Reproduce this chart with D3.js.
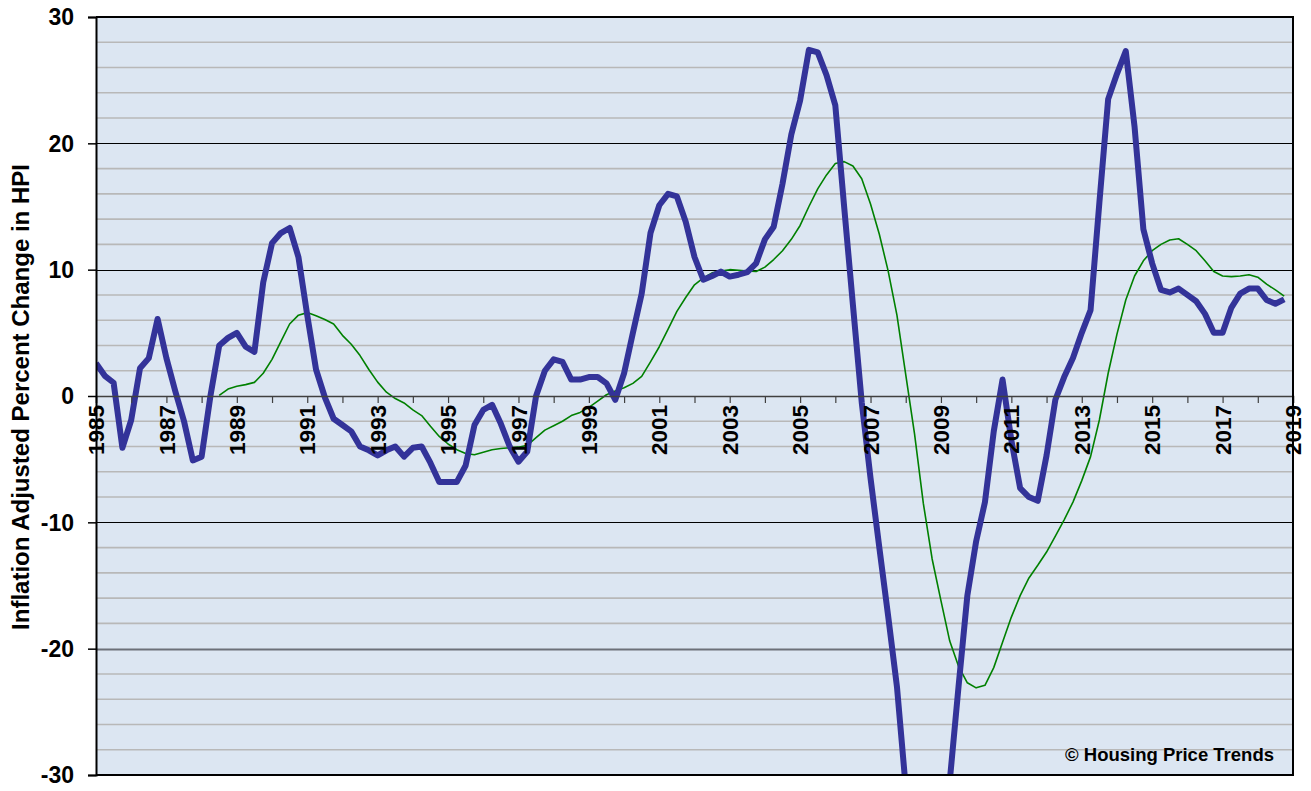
<!DOCTYPE html>
<html>
<head>
<meta charset="utf-8">
<script src="https://cdn.jsdelivr.net/npm/d3@7"></script>
<style>
  html, body { margin: 0; padding: 0; background: #ffffff; }
  svg { display: block; }
  text { font-family: "Liberation Sans", Arial, sans-serif; font-weight: bold; fill: #000; }
</style>
</head>
<body>
<svg id="chart" width="1311" height="791"></svg>
<script>
// ---- DATA ----
const startYear = 1985;           // first quarter of blue series (Q1 1985)
const greenStartYear = 1988.5;    // first quarter of green series
const yTicks = [-30, -20, -10, 0, 10, 20, 30];
const yearTicks = [1985,1986,1987,1988,1989,1990,1991,1992,1993,1994,1995,1996,1997,1998,1999,2000,2001,2002,2003,2004,2005,2006,2007,2008,2009,2010,2011,2012,2013,2014,2015,2016,2017,2018,2019];
const yearLabels = [1985,1987,1989,1991,1993,1995,1997,1999,2001,2003,2005,2007,2009,2011,2013,2015,2017,2019];
const yAxisTitle = "Inflation Adjusted Percent Change in HPI";
const credit = "\u00A9 Housing Price Trends";

// quarterly inflation-adjusted % change (thick blue line), 1985 Q1 .. 2018 Q4
const blueValues = [
  2.6, 1.6, 1.05, -4.1,
  -1.9, 2.2, 3.0, 6.1,
  3.0, 0.4, -2.0, -5.1,
  -4.8, 0.0, 4.0, 4.6,
  5.0, 3.9, 3.5, 9.0,
  12.1, 12.9, 13.3, 11.0,
  6.4, 2.1, -0.1, -1.8,
  -2.3, -2.8, -4.0, -4.3,
  -4.7, -4.3, -4.0, -4.8,
  -4.1, -4.0, -5.3, -6.8,
  -6.8, -6.8, -5.5, -2.3,
  -1.1, -0.7, -2.2, -4.0,
  -5.2, -4.4, 0.0, 2.0,
  2.9, 2.7, 1.3, 1.3,
  1.5, 1.5, 1.0, -0.3,
  1.8, 5.0, 8.1, 12.9,
  15.1, 16.0, 15.8, 13.8,
  11.0, 9.2, 9.5, 9.85,
  9.45, 9.6, 9.8, 10.5,
  12.4, 13.4, 16.8, 20.7,
  23.4, 27.4, 27.2, 25.4,
  23.0, 15.0, 7.2, -0.5,
  -6.5, -12.0, -17.4, -23.0,
  -31.0, -36.0, -39.0, -38.0,
  -35.0, -30.5, -23.0, -15.8,
  -11.5, -8.4, -2.8, 1.3,
  -3.5, -7.3, -8.0, -8.3,
  -4.7, -0.3, 1.5, 3.0,
  5.0, 6.8, 15.3, 23.5,
  25.5, 27.3, 21.3, 13.2,
  10.5, 8.4, 8.2, 8.5,
  8.0, 7.5, 6.5, 5.0,
  5.0, 7.0, 8.1, 8.5,
  8.5, 7.6, 7.3, 7.65
];

// smoothed trend (thin green line), 1988 Q3 .. 2018 Q4
const greenValues = [
  0.05, 0.55,
  0.77, 0.9, 1.08, 1.8,
  2.9, 4.3, 5.7, 6.4,
  6.6, 6.35, 6.05, 5.7,
  4.8, 4.1, 3.2, 2.1,
  1.1, 0.3, -0.2, -0.55,
  -1.1, -1.55, -2.4, -3.2,
  -3.8, -4.25, -4.55, -4.65,
  -4.45, -4.25, -4.15, -4.1,
  -4.05, -3.9, -3.3, -2.7,
  -2.35, -2.0, -1.55, -1.3,
  -0.9, -0.4, 0.1, 0.4,
  0.65, 1.0, 1.55, 2.7,
  3.9, 5.3, 6.7, 7.8,
  8.8, 9.35, 9.75, 9.9,
  10.0, 9.95, 9.9, 9.85,
  10.2, 10.8, 11.5, 12.4,
  13.5, 15.0, 16.4, 17.5,
  18.4, 18.55, 18.2, 17.2,
  15.2, 12.8, 9.9, 6.4,
  1.7, -3.0, -8.5, -12.9,
  -16.2, -19.4, -21.4, -22.7,
  -23.1, -22.9, -21.5, -19.5,
  -17.5, -15.8, -14.4, -13.4,
  -12.35, -11.1, -9.8, -8.4,
  -6.7, -4.8, -1.9, 1.8,
  4.9, 7.6, 9.5, 10.7,
  11.5, 12.0, 12.35, 12.45,
  12.0, 11.5, 10.7, 9.85,
  9.5, 9.45, 9.5, 9.6,
  9.4, 8.85, 8.4, 7.9
];

// ---- CHART ----
const svg = d3.select("#chart");
const plot = { left: 96, top: 17, right: 1293, bottom: 775 };

const x = d3.scaleLinear().domain([1985, 2019]).range([plot.left, plot.right]);
const y = d3.scaleLinear().domain([-30, 30]).range([plot.bottom, plot.top]);

const blue = blueValues.map((v, i) => ({ t: startYear + i * 0.25, v }));
const green = greenValues.map((v, i) => ({ t: greenStartYear + i * 0.25, v }));

// background
svg.append("rect")
  .attr("x", plot.left).attr("y", plot.top)
  .attr("width", plot.right - plot.left).attr("height", plot.bottom - plot.top)
  .attr("fill", "#dce6f2");

// minor gridlines (every 2)
const minor = d3.range(-28, 30, 2).filter(d => d % 10 !== 0);
svg.append("g").selectAll("line").data(minor).join("line")
  .attr("x1", plot.left).attr("x2", plot.right)
  .attr("y1", d => y(d)).attr("y2", d => y(d))
  .attr("stroke", "#b8b8b8").attr("stroke-width", 1.6);

// major gridlines
const major = [-20, -10, 10, 20];
svg.append("g").selectAll("line").data(major).join("line")
  .attr("x1", plot.left).attr("x2", plot.right)
  .attr("y1", d => Math.round(y(d)) + 0.5).attr("y2", d => Math.round(y(d)) + 0.5)
  .attr("stroke", d => d === -20 ? "#6c7079" : "#000")
  .attr("stroke-width", d => d === -20 ? 2 : 1.2);

// clip
svg.append("clipPath").attr("id", "clip").append("rect")
  .attr("x", plot.left).attr("y", plot.top)
  .attr("width", plot.right - plot.left).attr("height", plot.bottom - plot.top);

const line = d3.line().x(d => x(d.t)).y(d => y(d.v));

const lines = svg.append("g").attr("clip-path", "url(#clip)");
lines.append("path").datum(green)
  .attr("d", line).attr("fill", "none")
  .attr("stroke", "#008000").attr("stroke-width", 1.6).attr("stroke-linejoin", "round");
lines.append("path").datum(blue)
  .attr("d", line).attr("fill", "none")
  .attr("stroke", "#333399").attr("stroke-width", 6).attr("stroke-linejoin", "round");

// x axis at zero
const xAxis = d3.axisBottom(x).tickValues(yearTicks).tickSize(7).tickFormat("");
const gx = svg.append("g").attr("transform", `translate(0,${y(0)})`).call(xAxis);
gx.select(".domain").attr("stroke", "#404040").attr("stroke-width", 1.5);
gx.selectAll(".tick line").attr("stroke", "#404040").attr("stroke-width", 1.2);

// x labels (rotated)
svg.append("g").selectAll("text").data(yearLabels).join("text")
  .attr("transform", d => `translate(${x(d)},${y(0) + 9}) rotate(-90)`)
  .attr("text-anchor", "end")
  .attr("dy", "0.36em")
  .attr("font-size", 22.5)
  .text(d => d);

// y axis
const yAxis = d3.axisLeft(y).tickValues(yTicks).tickSize(8).tickFormat("");
const gy = svg.append("g").attr("transform", `translate(${plot.left},0)`).call(yAxis);
gy.select(".domain").attr("stroke", "#000").attr("stroke-width", 2);
gy.selectAll(".tick line").attr("stroke", "#000").attr("stroke-width", 1.5);

svg.append("g").selectAll("text").data(yTicks).join("text")
  .attr("x", 74).attr("y", d => y(d))
  .attr("dy", "0.36em")
  .attr("text-anchor", "end")
  .attr("font-size", 23)
  .text(d => d);

// frame (top, right, bottom)
svg.append("path")
  .attr("d", `M${plot.left},${plot.top}H${plot.right}V${plot.bottom}H${plot.left}`)
  .attr("fill", "none").attr("stroke", "#000").attr("stroke-width", 2);

// axis title
svg.append("text")
  .attr("transform", `translate(29,${(plot.top + plot.bottom) / 2 + 1}) rotate(-90)`)
  .attr("text-anchor", "middle")
  .attr("font-size", 24)
  .text(yAxisTitle);

// credit
svg.append("text")
  .attr("x", 1274).attr("y", 761)
  .attr("text-anchor", "end")
  .attr("font-size", 18.5)
  .text(credit);
</script>
</body>
</html>
